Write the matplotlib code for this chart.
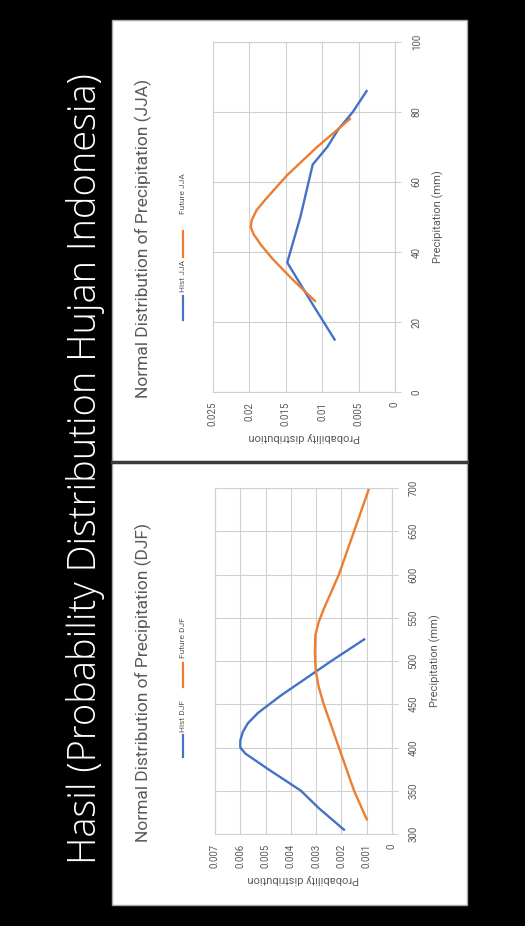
import matplotlib
matplotlib.use('Agg')
import matplotlib.pyplot as plt
from matplotlib.lines import Line2D
from matplotlib.patches import Rectangle

W, H = 525, 926

# JJA season
jja_hist_mm = [15, 25, 37, 50, 65, 70, 75, 80, 86]
jja_hist_p = [0.0083, 0.0113, 0.0148, 0.0130, 0.0113, 0.0093, 0.0078, 0.0058, 0.0039]
jja_fut_mm = [26, 32, 38, 42, 45, 47, 49, 52, 55, 62, 70, 78]
jja_fut_p = [0.0110, 0.0140, 0.0168, 0.0184, 0.0194, 0.0198, 0.0197, 0.0190, 0.0178, 0.0148, 0.0107, 0.0062]

# DJF season
djf_hist_mm = [305, 330, 350, 375, 385, 393, 400, 408, 418, 428, 440, 460, 480, 500, 525]
djf_hist_p = [0.0019, 0.0029, 0.0036, 0.0049, 0.0054, 0.0058, 0.0060, 0.0060, 0.0059, 0.0057, 0.0053, 0.0044, 0.0034, 0.0024, 0.0011]
djf_fut_mm = [317, 350, 400, 450, 470, 490, 510, 530, 545, 560, 600, 650, 700]
djf_fut_p = [0.0010, 0.0015, 0.0021, 0.0027, 0.0029, 0.00302, 0.00305, 0.00303, 0.0029, 0.0027, 0.0021, 0.0015, 0.0009]

jja_p_ticks = [0, 0.005, 0.01, 0.015, 0.02, 0.025]
jja_p_labels = ['0', '0.005', '0.01', '0.015', '0.02', '0.025']
jja_mm_ticks = [0, 20, 40, 60, 80, 100]
djf_p_ticks = [0, 0.001, 0.002, 0.003, 0.004, 0.005, 0.006, 0.007]
djf_p_labels = ['0', '0.001', '0.002', '0.003', '0.004', '0.005', '0.006', '0.007']
djf_mm_ticks = [300, 350, 400, 450, 500, 550, 600, 650, 700]

slide_title = 'Hasil (Probability Distribution Hujan Indonesia)'

BLUE = '#4472C4'
ORANGE = '#ED7D31'
GREY = '#595959'
GRID = '#d0d0d0'
NARROW = ['Roboto', 'DejaVu Sans']

fig = plt.figure(figsize=(W / 100, H / 100), dpi=100, facecolor='black')


def fx(x):
    return x / W


def fy(y):
    return 1 - y / H


def ftext(x, y, s, **kw):
    fig.text(fx(x), fy(y), s, **kw)


# white slide panel + divider (behind the axes)
fig.add_artist(Rectangle((fx(112), fy(905)), (467 - 112) / W, (905 - 20) / H,
                         transform=fig.transFigure, facecolor='white',
                         edgecolor='#a6a6a6', lw=1, zorder=-5))
fig.add_artist(Line2D([fx(112), fx(467)], [fy(462), fy(462)], color='#3a3a3a', lw=2.5))

ftext(86, 469, slide_title, rotation=90, ha='center', va='center', color='white',
      fontsize=27.4, family=['Open Sans', 'DejaVu Sans'], fontweight='light')


def chart(box, hist, fut, p_ticks, p_labels, mm_ticks, season, title_y, leg):
    left, top, right, bottom = box
    ax = fig.add_axes([fx(left), fy(bottom), (right - left) / W, (bottom - top) / H])
    ax.patch.set_alpha(0)
    ax.plot(hist[1], hist[0], color=BLUE, lw=1.7)
    ax.plot(fut[1], fut[0], color=ORANGE, lw=1.7)
    ax.set_xlim(p_ticks[-1], p_ticks[0])
    ax.set_ylim(mm_ticks[0], mm_ticks[-1])
    ax.set_xticks(p_ticks)
    ax.set_xticklabels(p_labels, rotation=90, family=NARROW, fontsize=7, color=GREY)
    ax.set_yticks(mm_ticks)
    ax.set_yticklabels([str(t) for t in mm_ticks], rotation=90, va='center',
                       family=NARROW, fontsize=7, color=GREY)
    ax.yaxis.tick_right()
    ax.yaxis.set_label_position('right')
    ax.tick_params(axis='x', length=0, pad=7)
    ax.tick_params(axis='y', length=4, color=GRID, pad=8)
    ax.grid(True, color=GRID, lw=0.8)
    ax.set_axisbelow(True)
    for s in ax.spines.values():
        s.set_color(GRID)
        s.set_linewidth(0.8)
    ax.set_xlabel('Probability distribution', rotation=180, family=NARROW,
                  fontsize=8, color=GREY, labelpad=4)
    ax.set_ylabel('Precipitation (mm)', rotation=90, family=NARROW,
                  fontsize=8, color=GREY, labelpad=8)
    ftext(143, title_y, 'Normal Distribution of Precipitation (%s)' % season,
          rotation=90, ha='center', va='center', family=NARROW, fontsize=12.5, color=GREY)
    b0, b1, hist_y, o0, o1, fut_y = leg
    fig.add_artist(Line2D([fx(183), fx(183)], [fy(b0), fy(b1)], color=BLUE, lw=1.6))
    ftext(183, hist_y, 'Hist %s' % season, rotation=90, ha='center', va='center',
          family=NARROW, fontsize=6, color=GREY)
    fig.add_artist(Line2D([fx(183), fx(183)], [fy(o0), fy(o1)], color=ORANGE, lw=1.6))
    ftext(183, fut_y, 'Future %s' % season, rotation=90, ha='center', va='center',
          family=NARROW, fontsize=6, color=GREY)
    return ax


chart((213, 42, 395, 392), (jja_hist_mm, jja_hist_p), (jja_fut_mm, jja_fut_p),
      jja_p_ticks, jja_p_labels, jja_mm_ticks, 'JJA', 238,
      (320, 296, 276, 257, 231, 194))
chart((215, 488, 392, 834), (djf_hist_mm, djf_hist_p), (djf_fut_mm, djf_fut_p),
      djf_p_ticks, djf_p_labels, djf_mm_ticks, 'DJF', 683,
      (757, 735, 716, 687, 663, 638))

fig.savefig('out.png', dpi=100, facecolor='black')
